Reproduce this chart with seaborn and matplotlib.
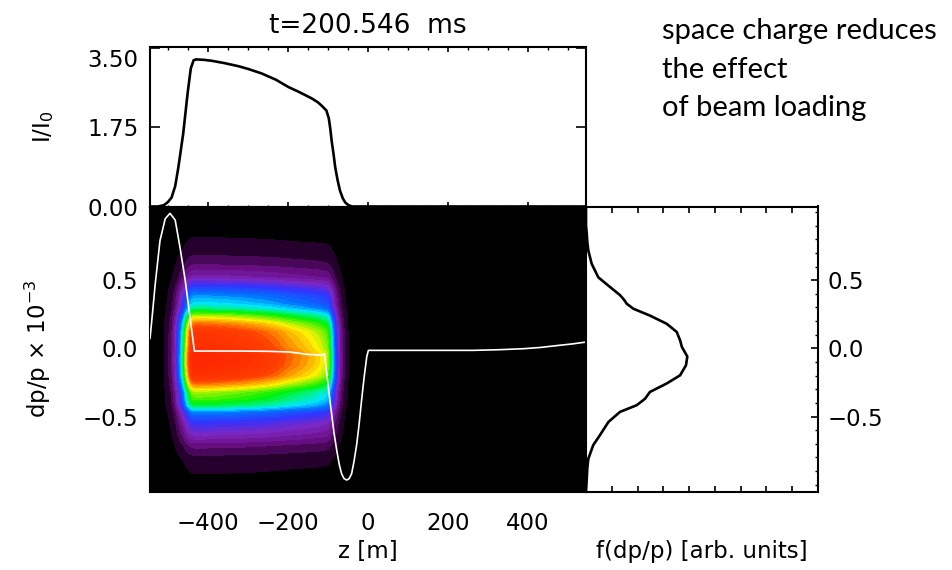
import numpy as np
import matplotlib
matplotlib.use("Agg")
import matplotlib.pyplot as plt
from matplotlib.colors import LinearSegmentedColormap
from matplotlib.ticker import MultipleLocator, FixedLocator
from matplotlib.transforms import ScaledTranslation
import seaborn as sns

# ---- data -----------------------------------------------------------------
# line density I/I0 along the bunch, z in metres
z_current = [-545, -525, -510, -500, -491, -482, -474, -462, -451, -443, -436,
             -430, -410, -391, -360, -324, -300, -266, -230, -199, -170, -141,
             -125, -115, -104, -98, -94, -91, -86, -82, -76, -70, -63, -57,
             -49, -40, 545]
current = [0.0, 0.0, 0.03, 0.10, 0.20, 0.45, 0.87, 1.61, 2.50, 3.05, 3.23,
           3.25, 3.24, 3.22, 3.17, 3.10, 3.04, 2.94, 2.80, 2.64, 2.52, 2.39,
           2.30, 2.22, 2.12, 1.95, 1.70, 1.46, 1.15, 0.87, 0.58, 0.35, 0.18,
           0.09, 0.03, 0.0, 0.0]

# total voltage trace, drawn in units of dp/p x 1e-3
trace_z = [-545, -540, -532, -520, -507, -495, -482, -470, -457, -445, -434,
           -400, -320, -250, -195, -153, -116, -109, -103, -97, -91, -85, -78,
           -72, -66, -60, -53, -47, -41, -35, -28, -22, -16, -10, -3, 1, 150,
           263, 330, 388, 430, 472, 510, 545]
trace_dp = [0.071, 0.22, 0.47, 0.79, 0.95, 0.99, 0.94, 0.74, 0.50, 0.23,
            -0.02, -0.02, -0.02, -0.022, -0.027, -0.044, -0.05, -0.04, -0.19,
            -0.34, -0.48, -0.62, -0.75, -0.85, -0.92, -0.955, -0.966, -0.955,
            -0.92, -0.83, -0.70, -0.55, -0.38, -0.22, -0.06, -0.015, -0.015,
            -0.015, -0.01, -0.003, 0.006, 0.02, 0.032, 0.046]

# momentum distribution f(dp/p), arbitrary units
dp_hist = [1.04, 0.90, 0.84, 0.78, 0.717, 0.62, 0.52, 0.45, 0.39, 0.355,
           0.327, 0.29, 0.24, 0.18, 0.12, 0.059, 0.01, -0.06, -0.124, -0.198,
           -0.258, -0.32, -0.37, -0.417, -0.466, -0.54, -0.637, -0.71, -0.81,
           -0.88, -0.954, -1.05]
f_hist = [0.0, 0.0, 0.03, 0.05, 0.09, 0.22, 0.48, 0.93, 1.32, 1.48, 1.58,
          1.84, 2.48, 3.13, 3.52, 3.65, 3.72, 3.93, 3.88, 3.65, 3.13, 2.48,
          2.29, 1.97, 1.32, 0.87, 0.54, 0.28, 0.09, 0.05, 0.03, 0.0]

z_ticks = [-400, -200, 0, 200, 400]
z_ticklabels = ["\u2212400", "\u2212200", "0", "200", "400"]
dp_ticks = [-0.5, 0.0, 0.5]
dp_ticklabels = ["\u22120.5", "0.0", "0.5"]
cur_ticks = [0.0, 1.75, 3.5]
cur_ticklabels = ["0.00", "1.75", "3.50"]

title = "t=200.546  ms"
note = "space charge reduces\nthe effect\nof beam loading"

# ---- style ----------------------------------------------------------------
sns.set_style("ticks")
plt.rcParams.update({
    "font.family": ["DejaVu Sans"],
    "mathtext.fontset": "dejavusans",
    "mathtext.default": "regular",
    "text.color": "black",
    "axes.labelcolor": "black",
    "xtick.color": "black",
    "ytick.color": "black",
    "axes.edgecolor": "black",
})
TICK_FS = 16.5

W, H = 953, 570
fig = plt.figure(figsize=(W / 100, H / 100), dpi=100)
fig.patch.set_facecolor("white")


def box(x0, y0, x1, y1):
    return [x0 / W, 1 - y1 / H, (x1 - x0) / W, (y1 - y0) / H]


ax_top = fig.add_axes(box(150, 46.5, 586, 206.5))
ax_main = fig.add_axes(box(150, 206.5, 586, 491.5))
ax_side = fig.add_axes(box(586, 206.5, 818, 491.5))

zlim = (-545, 545)
dplim = (-1.05, 1.04)

for ax in (ax_top, ax_main, ax_side):
    for sp in ax.spines.values():
        sp.set_visible(True)
        sp.set_linewidth(1.5)
        sp.set_color("black")

# ---- phase-space density (built from the two projections) ------------------
zg = np.linspace(zlim[0], zlim[1], 700)
pg = np.linspace(dplim[0], dplim[1], 500)
line_density = np.interp(zg, z_current, current)
mom_density = np.interp(pg, dp_hist[::-1], f_hist[::-1])
density = np.outer(mom_density, line_density)
density /= density.max()

rainbow = LinearSegmentedColormap.from_list("idl_rainbow", [
    (0.00, (0.00, 0.00, 0.00)),
    (0.02, (0.15, 0.00, 0.18)),
    (0.07, (0.40, 0.05, 0.50)),
    (0.14, (0.50, 0.15, 0.75)),
    (0.22, (0.20, 0.20, 1.00)),
    (0.32, (0.00, 0.45, 1.00)),
    (0.40, (0.00, 0.90, 1.00)),
    (0.47, (0.00, 0.95, 0.50)),
    (0.54, (0.00, 0.95, 0.00)),
    (0.62, (0.55, 0.95, 0.00)),
    (0.68, (1.00, 0.95, 0.00)),
    (0.76, (1.00, 0.60, 0.00)),
    (0.84, (1.00, 0.25, 0.00)),
    (1.00, (1.00, 0.15, 0.00)),
])

ax_main.set_facecolor("black")
ax_main.contourf(zg, pg, density, levels=np.linspace(0.01, 1.0, 40),
                 cmap=rainbow, vmin=0, vmax=1, zorder=1)
sns.lineplot(x=trace_z, y=trace_dp, ax=ax_main, color="white", lw=1.2,
             estimator=None, sort=False, zorder=3)

ax_main.set_xlim(*zlim)
ax_main.set_ylim(*dplim)
ax_main.xaxis.set_major_locator(FixedLocator(z_ticks))
ax_main.set_xticklabels(z_ticklabels, fontsize=TICK_FS)
ax_main.yaxis.set_major_locator(FixedLocator(dp_ticks))
ax_main.set_yticklabels(dp_ticklabels, fontsize=TICK_FS)
ax_main.tick_params(axis="both", direction="in", length=6, color="black")
ax_main.tick_params(axis="x", pad=14.5)
ax_main.tick_params(axis="y", pad=8.5)
ax_main.set_xlabel("z [m]", fontsize=TICK_FS, va="center")
ax_main.xaxis.set_label_coords(0.5, -0.209)
ax_main.set_ylabel("dp/p \u00d7 10$^{\u22123}$", fontsize=TICK_FS,
                   va="center")
ax_main.yaxis.set_label_coords(-0.257, 0.5)

# ---- current profile ------------------------------------------------------
sns.lineplot(x=z_current, y=current, ax=ax_top, color="black", lw=1.9,
             estimator=None, sort=False)
ax_top.set_xlim(*zlim)
ax_top.set_ylim(0, 3.535)
ax_top.xaxis.set_major_locator(FixedLocator(z_ticks))
ax_top.xaxis.set_minor_locator(MultipleLocator(50))
ax_top.yaxis.set_major_locator(FixedLocator(cur_ticks))
ax_top.set_yticklabels(cur_ticklabels, fontsize=TICK_FS)
ax_top.tick_params(axis="x", which="both", direction="in", top=True,
                   bottom=True, labelbottom=False)
ax_top.tick_params(axis="x", which="major", length=3.5, width=1.2)
ax_top.tick_params(axis="x", which="minor", length=1.8, width=1.0)
ax_top.tick_params(axis="y", direction="in", left=True, right=True,
                   length=7, width=1.2, pad=8.5)
ax_top.set_xlabel("")
ax_top.set_ylabel("I/I$_0$", fontsize=TICK_FS, va="center")
ax_top.yaxis.set_label_coords(-0.245, 0.5)
ax_top.set_title(title, fontsize=19, pad=9.7)
top_label = ax_top.yaxis.get_major_ticks()[-1].label1
top_label.set_transform(top_label.get_transform() +
                        ScaledTranslation(0, -10 / 100, fig.dpi_scale_trans))

# ---- momentum distribution ------------------------------------------------
sns.lineplot(x=f_hist, y=dp_hist, ax=ax_side, color="black", lw=1.9,
             estimator=None, sort=False, orient="y")
ax_side.set_xlim(0, 9)
ax_side.set_ylim(*dplim)
ax_side.xaxis.set_major_locator(MultipleLocator(1))
ax_side.tick_params(axis="x", direction="in", top=True, bottom=True,
                    labelbottom=False, length=4, width=1.2)
ax_side.yaxis.tick_right()
ax_side.yaxis.set_major_locator(FixedLocator(dp_ticks))
ax_side.yaxis.set_minor_locator(MultipleLocator(0.1))
ax_side.set_yticklabels(dp_ticklabels, fontsize=TICK_FS)
ax_side.tick_params(axis="y", which="both", direction="in", left=False,
                    right=True, pad=7)
ax_side.tick_params(axis="y", which="major", length=5, width=1.2)
ax_side.tick_params(axis="y", which="minor", length=2.5, width=1.0)
ax_side.set_xlabel("f(dp/p) [arb. units]", fontsize=TICK_FS, va="center")
ax_side.xaxis.set_label_coords(0.5, -0.209)
ax_side.set_ylabel("")

# ---- annotation -----------------------------------------------------------
fig.text(662 / W, 1 - 18 / H, note, ha="left", va="top", fontsize=21,
         family=["Lato", "DejaVu Sans"], linespacing=1.6, color="black")

fig.savefig("out.png", dpi=100, facecolor="white")
